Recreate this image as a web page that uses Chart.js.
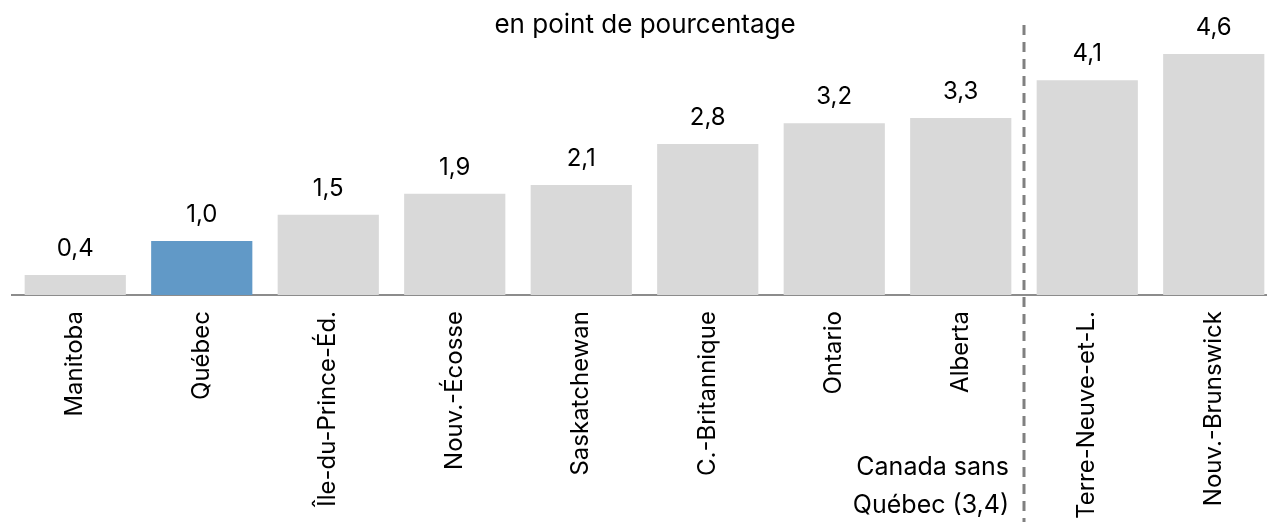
<!DOCTYPE html>
<html>
<head>
<meta charset="utf-8">
<script src="https://cdn.jsdelivr.net/npm/chart.js@4.4.1/dist/chart.umd.min.js"></script>
<style>
html,body{margin:0;padding:0;background:#fff;overflow:hidden;}
#wrap{width:1267px;height:522px;position:relative;overflow:hidden;}
canvas{display:block;}
</style>
</head>
<body>
<div id="wrap"><canvas id="c" width="1277" height="522"></canvas></div>
<script>
const categories = ["Manitoba","Québec","Île-du-Prince-Éd.","Nouv.-Écosse","Saskatchewan","C.-Britannique","Ontario","Alberta","Terre-Neuve-et-L.","Nouv.-Brunswick"];
// bar heights
const barValues = [0.38, 1.03, 1.53, 1.93, 2.10, 2.88, 3.28, 3.38, 4.10, 4.60];
// value labels as printed
const valueLabels = ["0,4","1,0","1,5","1,9","2,1","2,8","3,2","3,3","4,1","4,6"];
const subtitleText = "en point de pourcentage";
const canadaNote = ["Canada sans", "Québec (3,4)"];
const FONT = "Inter, 'Open Sans', sans-serif";

const colors = categories.map(c => c === "Québec" ? "#6199c7" : "#d9d9d9");

const overlay = {
  id: 'overlay',
  afterDatasetsDraw(chart) {
    const ctx = chart.ctx;
    const x = chart.scales.x;
    const meta = chart.getDatasetMeta(0);
    ctx.save();
    ctx.fillStyle = '#000';
    ctx.font = '24px ' + FONT;
    ctx.textAlign = 'center';
    ctx.textBaseline = 'alphabetic';
    meta.data.forEach((bar, i) => {
      ctx.fillText(valueLabels[i], bar.x, bar.y - 19);
    });
    // subtitle
    ctx.font = '26px ' + FONT;
    ctx.textBaseline = 'middle';
    ctx.fillText(subtitleText, 645, 25);
    // dashed separator
    const sx = (x.getPixelForValue(7) + x.getPixelForValue(8)) / 2;
    ctx.strokeStyle = '#808080';
    ctx.lineWidth = 3;
    ctx.setLineDash([10, 7]);
    ctx.beginPath();
    ctx.moveTo(sx, 25);
    ctx.lineTo(sx, 522);
    ctx.stroke();
    ctx.setLineDash([]);
    ctx.font = '25px ' + FONT;
    ctx.textAlign = 'right';
    ctx.fillText(canadaNote[0], sx - 15, 467);
    ctx.fillText(canadaNote[1], sx - 15, 505);
    ctx.restore();
  }
};

new Chart(document.getElementById('c'), {
  type: 'bar',
  data: {
    labels: categories,
    datasets: [{ data: barValues, backgroundColor: colors, barPercentage: 0.8, categoryPercentage: 1.0 }]
  },
  options: {
    responsive: false,
    animation: false,
    layout: { padding: { top: 33, left: 12, right: 0, bottom: 0 } },
    plugins: { legend: { display: false }, tooltip: { enabled: false } },
    scales: {
      y: { display: false, min: 0, max: 5.0 },
      x: {
        grid: { display: false, drawTicks: false },
        border: { display: true, color: '#8c8c8c', width: 2 },
        ticks: { color: '#000', font: { size: 24, family: FONT }, minRotation: 90, maxRotation: 90, padding: 16, autoSkip: false },
        afterFit(scale) { scale.height = 227; }
      }
    }
  },
  plugins: [overlay]
});
</script>
</body>
</html>
